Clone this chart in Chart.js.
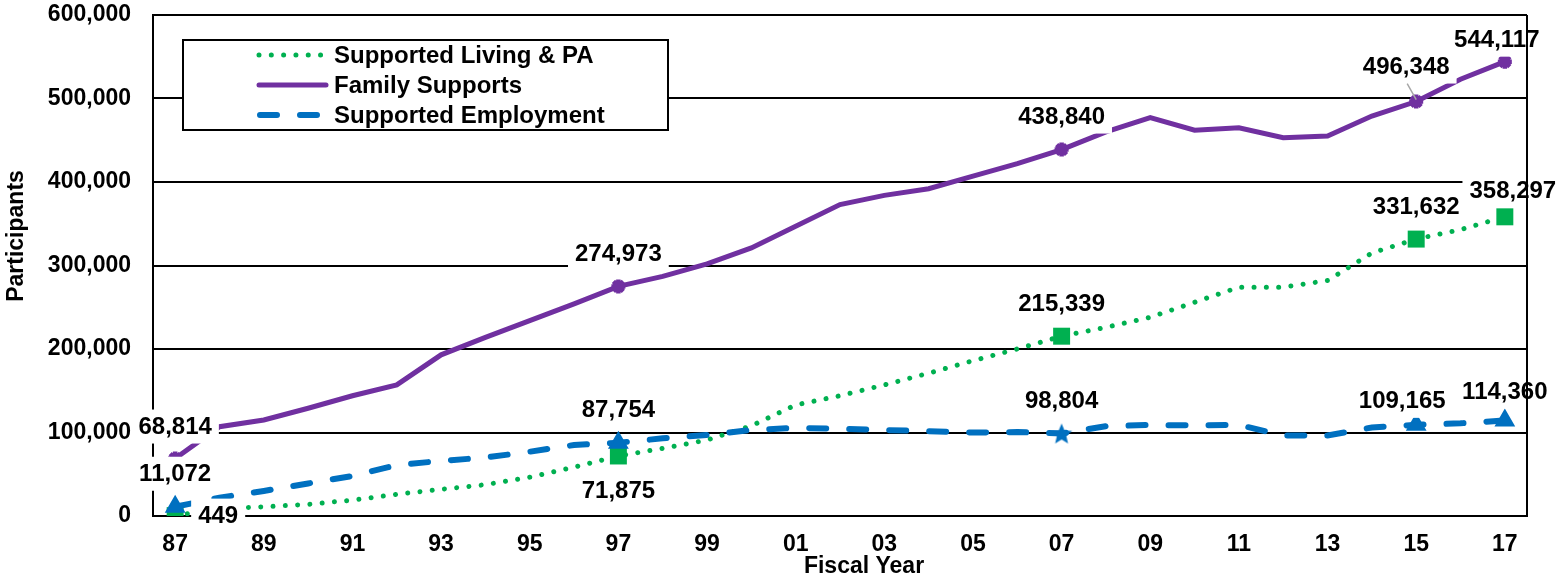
<!DOCTYPE html>
<html>
<head>
<meta charset="utf-8">
<title>Participants by Fiscal Year</title>
<script src="https://cdn.jsdelivr.net/npm/chart.js@4.4.0/dist/chart.umd.min.js"></script>
<style>
    html, body { margin: 0; padding: 0; background: #fff; }
    #chart { display: block; }
</style>
</head>
<body>
<canvas id="chart" width="1567" height="581"></canvas>
<script>
// Fiscal years 1987 - 2017
const years = ['87', '88', '89', '90', '91', '92', '93', '94', '95', '96', '97', '98', '99', '00', '01',
    '02', '03', '04', '05', '06', '07', '08', '09', '10', '11', '12', '13', '14', '15', '16', '17'];

const supportedLiving = [449, 9000, 11000, 14000, 19000, 26000, 32000, 37500, 46500, 58500, 71875,
    81000, 91000, 108000, 133000, 144000, 157000, 171000, 186000, 200000, 215339,
    226000, 238000, 256000, 274000, 274000, 282000, 315000, 331632, 343000, 358297];

const familySupports = [68814, 107000, 115000, 129000, 144000, 157000, 193000, 214000, 234000, 254000, 274973,
    287000, 302000, 321000, 347000, 373000, 384000, 392000, 407000, 422000, 438840,
    460000, 477000, 462000, 465000, 453000, 455000, 479000, 496348, 523000, 544117];

const supportedEmployment = [11072, 22000, 30000, 39000, 48000, 61000, 66000, 70000, 77000, 85000, 87754,
    93000, 97000, 103000, 105500, 104500, 103000, 101500, 100000, 100500, 98804,
    107500, 109000, 108500, 109000, 96500, 96500, 106000, 109165, 111000, 114360];

const seriesNames = ['Supported Living & PA', 'Family Supports', 'Supported Employment'];
const yTicks = [0, 100000, 200000, 300000, 400000, 500000, 600000];

// points that carry a marker and a value label
const labelPoints = [0, 10, 20, 28, 30];

const GREEN = '#00B050';
const PURPLE = '#7030A0';
const BLUE = '#0070C0';
const FONT = '"Liberation Sans", Arial, sans-serif';

// label offsets from the point, in px, per dataset (same order as labelPoints)
const labelOffsets = [
    [[43, 0], [0, 34], [0, -33], [0, -33], [8, -26]],
    [[0, -32], [0, -33], [0, -33], [-10, -35], [-8, -22]],
    [[0, -33], [0, -33], [0, -33], [-14, -24], [0, -29]]
];

// filled five point star used as a marker
function makeStar(color, size) {
    const c = document.createElement('canvas');
    c.width = size;
    c.height = size;
    const g = c.getContext('2d');
    const r = size / 2, ri = r * 0.45;
    g.beginPath();
    for (let i = 0; i < 10; i++) {
        const rad = (i % 2 === 0) ? r : ri;
        const a = -Math.PI / 2 + i * Math.PI / 5;
        const px = r + rad * Math.cos(a);
        const py = r + 1 + rad * Math.sin(a);
        if (i === 0) g.moveTo(px, py); else g.lineTo(px, py);
    }
    g.closePath();
    g.fillStyle = color;
    g.fill();
    return c;
}

const blueStar = makeStar(BLUE, 22);

function markerRadius(r) {
    return years.map((y, i) => labelPoints.includes(i) ? r : 0);
}

// Value labels with white boxes
const valueLabels = {
    id: 'valueLabels',
    afterDatasetsDraw(chart) {
        const ctx = chart.ctx;
        ctx.save();
        ctx.font = 'bold 24px ' + FONT;
        ctx.textAlign = 'center';
        ctx.textBaseline = 'middle';
        chart.data.datasets.forEach((ds, di) => {
            const meta = chart.getDatasetMeta(di);
            labelPoints.forEach((idx, k) => {
                const pt = meta.data[idx];
                const off = labelOffsets[di][k];
                const cx = pt.x + off[0];
                const cy = pt.y + off[1];
                const text = ds.data[idx].toLocaleString('en-US');
                const w = ctx.measureText(text).width;
                ctx.fillStyle = '#fff';
                ctx.fillRect(cx - w / 2 - 7, cy - 17, w + 14, 34);
                ctx.fillStyle = '#000';
                ctx.fillText(text, cx, cy + 1);
                // leader line for the 2015 family supports label
                if (di === 1 && idx === 28) {
                    ctx.strokeStyle = '#a6a6a6';
                    ctx.lineWidth = 1.5;
                    ctx.beginPath();
                    ctx.moveTo(cx + 1, cy + 17);
                    ctx.lineTo(pt.x, pt.y - 2);
                    ctx.stroke();
                }
            });
        });
        ctx.restore();
    }
};

// Right frame line, axis titles and boxed legend
const frameAndLegend = {
    id: 'frameAndLegend',
    afterDraw(chart) {
        const ctx = chart.ctx;
        const area = chart.chartArea;
        ctx.save();

        ctx.strokeStyle = '#000';
        ctx.lineWidth = 2;
        ctx.beginPath();
        ctx.moveTo(area.right, area.top);
        ctx.lineTo(area.right, area.bottom);
        ctx.stroke();

        // axis titles
        ctx.fillStyle = '#000';
        ctx.font = 'bold 23px ' + FONT;
        ctx.textAlign = 'center';
        ctx.textBaseline = 'middle';
        ctx.fillText('Fiscal Year', (area.left + area.right) / 2 + 24, 567);
        ctx.translate(17, 236);
        ctx.rotate(-Math.PI / 2);
        ctx.fillText('Participants', 0, 0);
        ctx.setTransform(1, 0, 0, 1, 0, 0);

        // legend box
        const lx = area.left + 30, ly = area.top + 25, lw = 485, lh = 90;
        ctx.fillStyle = '#fff';
        ctx.fillRect(lx, ly, lw, lh);
        ctx.strokeRect(lx, ly, lw, lh);

        ctx.font = 'bold 24px ' + FONT;
        ctx.textAlign = 'left';
        chart.data.datasets.forEach((ds, i) => {
            const y = ly + 15 + i * 30;
            ctx.strokeStyle = ds.borderColor;
            ctx.lineWidth = ds.borderWidth;
            ctx.lineCap = 'round';
            ctx.setLineDash(ds.borderDash || []);
            ctx.beginPath();
            if (ds.borderDash && ds.borderDash[0] > 1) {
                ctx.moveTo(lx + 77, y);
                ctx.lineTo(lx + 144, y);
            } else {
                ctx.moveTo(lx + 76, y);
                ctx.lineTo(lx + 143, y);
            }
            ctx.stroke();
            ctx.setLineDash([]);
            ctx.fillStyle = '#000';
            ctx.fillText(seriesNames[i], lx + 151, y + 1);
        });
        ctx.restore();
    }
};

const ctx = document.getElementById('chart').getContext('2d');

new Chart(ctx, {
    type: 'line',
    data: {
        labels: years,
        datasets: [
            {
                label: seriesNames[0],
                data: supportedLiving,
                borderColor: GREEN,
                backgroundColor: GREEN,
                borderWidth: 5,
                borderDash: [0.01, 12.3],
                borderCapStyle: 'round',
                pointStyle: 'rect',
                pointRadius: markerRadius(12),
                pointBorderWidth: 0,
                tension: 0,
                order: 2
            },
            {
                label: seriesNames[1],
                data: familySupports,
                borderColor: PURPLE,
                backgroundColor: PURPLE,
                borderWidth: 5,
                pointStyle: 'star',
                pointRadius: markerRadius(7),
                pointBorderWidth: 4.5,
                tension: 0,
                order: 1
            },
            {
                label: seriesNames[2],
                data: supportedEmployment,
                borderColor: BLUE,
                backgroundColor: BLUE,
                borderWidth: 6,
                borderDash: [17, 23],
                borderCapStyle: 'round',
                pointStyle: years.map((y, i) => i === 20 ? blueStar : 'triangle'),
                pointRadius: markerRadius(10),
                pointBorderWidth: 2,
                tension: 0,
                order: 0
            }
        ]
    },
    options: {
        responsive: false,
        animation: false,
        devicePixelRatio: 1,
        layout: {
            padding: { top: 15, right: 40, left: 0, bottom: 0 }
        },
        plugins: {
            legend: { display: false },
            tooltip: { enabled: false }
        },
        scales: {
            x: {
                offset: true,
                grid: { display: false, drawTicks: false, offset: true },
                border: { display: true, color: '#000', width: 2 },
                ticks: {
                    autoSkip: false,
                    maxRotation: 0,
                    padding: 15,
                    color: '#000',
                    font: { family: FONT, size: 23, weight: 'bold' },
                    callback: (val, idx) => idx % 2 === 0 ? years[idx] : ''
                },
                afterFit: (scale) => { scale.height = 65; }
            },
            y: {
                min: 0,
                max: 600000,
                afterBuildTicks: (scale) => { scale.ticks = yTicks.map(v => ({ value: v })); },
                grid: { color: '#000', lineWidth: 2, drawTicks: false },
                border: { display: true, color: '#000', width: 2 },
                ticks: {
                    padding: 22,
                    color: '#000',
                    font: { family: FONT, size: 23, weight: 'bold' },
                    callback: (v) => v.toLocaleString('en-US')
                },
                afterFit: (scale) => {
                    scale.width = 153;
                    scale.paddingTop = 0;
                    scale.paddingBottom = 0;
                }
            }
        }
    },
    plugins: [valueLabels, frameAndLegend]
});
</script>
</body>
</html>
